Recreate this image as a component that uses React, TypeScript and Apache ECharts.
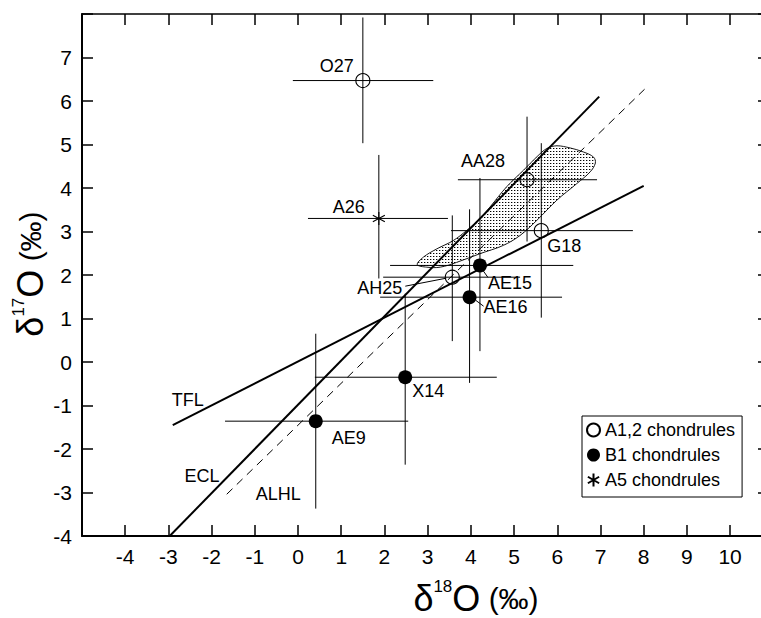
import React, { useEffect, useRef } from 'react';
import * as echarts from 'echarts';

const FONT = '"Liberation Sans", Arial, Helvetica, sans-serif';

// Axis ranges
const xMin = -5;
const xMax = 10.9;
const yMin = -4;
const yMax = 8;

// A1,2 chondrules (open circles)
const openNames = ['O27', 'AA28', 'G18', 'AH25'];
const openX = [1.5, 5.3, 5.63, 3.57];
const openY = [6.47, 4.19, 3.02, 1.95];
const openXLo = [-0.12, 3.7, 3.54, 1.97];
const openXHi = [3.13, 6.92, 7.75, 5.14];
const openYLo = [5.03, 2.77, 1.02, 0.48];
const openYHi = [7.92, 5.64, 5.03, 3.37];

// B1 chondrules (filled circles)
const filledNames = ['AE15', 'AE16', 'X14', 'AE9'];
const filledX = [4.21, 3.97, 2.48, 0.41];
const filledY = [2.22, 1.49, -0.35, -1.36];
const filledXLo = [2.13, 1.9, 0.39, -1.69];
const filledXHi = [6.37, 6.11, 4.6, 2.55];
const filledYLo = [0.25, -0.48, -2.36, -3.37];
const filledYHi = [4.23, 3.51, 1.57, 0.65];

// A5 chondrules (asterisk)
const starNames = ['A26'];
const starX = [1.87];
const starY = [3.3];
const starXLo = [0.23];
const starXHi = [3.47];
const starYLo = [1.92];
const starYHi = [4.76];

// Reference lines
const tflX = [-2.9, 8.0];
const tflY = [-1.45, 4.05];
const eclX = [-2.97, 6.97];
const eclY = [-4.0, 6.1];
const alhlX = [-1.65, 8.02];
const alhlY = [-3.04, 6.27];

const lineLabelNames = ['TFL', 'ECL', 'ALHL'];
const lineLabelX = [-2.55, -2.22, -0.46];
const lineLabelY = [-0.88, -2.61, -3.03];

// Stippled field outline
const blobX = [2.76, 2.98, 3.29, 3.67, 4.21, 4.75, 5.14, 5.53, 5.99, 6.45, 6.76, 6.88,
  6.84, 6.6, 6.3, 5.99, 5.76, 5.53, 5.22, 4.83, 4.44, 4.21, 3.91, 3.59, 3.21, 2.9];
const blobY = [2.24, 2.18, 2.18, 2.29, 2.49, 2.68, 2.91, 3.26, 3.72, 4.1, 4.37, 4.57,
  4.71, 4.83, 4.92, 4.97, 4.91, 4.72, 4.41, 4.03, 3.56, 3.3, 3.03, 2.79, 2.6, 2.41];

// label placement (pixel offsets from the point) — styling only
const labelPlace: Record<string, { dx: number; dy: number; align: string; lead?: number[] }> = {
  O27: { dx: -9, dy: -15, align: 'right' },
  AA28: { dx: -22, dy: -19, align: 'right' },
  G18: { dx: 6, dy: 15, align: 'left' },
  AH25: { dx: -50, dy: 11, align: 'right', lead: [-47, 9, -6, 1] },
  AE15: { dx: 8, dy: 18, align: 'left', lead: [3, 5, 8, 12] },
  AE16: { dx: 14, dy: 10, align: 'left', lead: [6, 3, 14, 9] },
  X14: { dx: 7, dy: 14, align: 'left' },
  AE9: { dx: 16, dy: 17, align: 'left' },
  A26: { dx: -14, dy: -11, align: 'right' },
};

const STAR_PATH = 'path://M10,0L10,20M1.34,5L18.66,15M1.34,15L18.66,5';

function errData(xs: number[], ys: number[], xl: number[], xh: number[], yl: number[], yh: number[]) {
  return xs.map((x, i) => [x, ys[i], xl[i], xh[i], yl[i], yh[i]]);
}

const titleRich = {
  d: { fontSize: 36, fontFamily: FONT, fill: '#000', lineHeight: 40 },
  s: { fontSize: 17, fontFamily: FONT, fill: '#000', lineHeight: 17, verticalAlign: 'top' },
  o: { fontSize: 36, fontFamily: FONT, fill: '#000', lineHeight: 40 },
  p: { fontSize: 30, fontFamily: FONT, fill: '#000', lineHeight: 40 },
};

export default function App() {
  const ref = useRef<HTMLDivElement>(null);
  useEffect(() => {
    if (!ref.current) return;
    const chart = echarts.init(ref.current, undefined, { renderer: 'svg' });

    const cv = document.createElement('canvas');
    cv.width = 3;
    cv.height = 3;
    const ctx = cv.getContext('2d');
    if (ctx) {
      ctx.fillStyle = '#fff';
      ctx.fillRect(0, 0, 3, 3);
      ctx.fillStyle = '#000';
      ctx.fillRect(1, 1, 1, 1);
      ctx.fillStyle = '#aaa';
      ctx.fillRect(2, 1, 1, 1);
    }
    const pattern: any = { image: cv.toDataURL(), repeat: 'repeat', imageWidth: 3, imageHeight: 3 };

    const allNames = [...openNames, ...filledNames, ...starNames];
    const allX = [...openX, ...filledX, ...starX];
    const allY = [...openY, ...filledY, ...starY];

    const errRender = (params: any, api: any) => {
      const c = api.coord([api.value(0), api.value(1)]);
      const xl = api.coord([api.value(2), api.value(1)]);
      const xh = api.coord([api.value(3), api.value(1)]);
      const yl = api.coord([api.value(0), api.value(4)]);
      const yh = api.coord([api.value(0), api.value(5)]);
      return {
        type: 'group',
        children: [
          { type: 'line', shape: { x1: xl[0], y1: c[1], x2: xh[0], y2: c[1] }, style: { stroke: '#000', lineWidth: 1 } },
          { type: 'line', shape: { x1: c[0], y1: yh[1], x2: c[0], y2: yl[1] }, style: { stroke: '#000', lineWidth: 1 } },
        ],
      };
    };

    const labelRender = (params: any, api: any) => {
      const name = allNames[params.dataIndex];
      const s = labelPlace[name];
      const c = api.coord([api.value(0), api.value(1)]);
      const children: any[] = [
        {
          type: 'text',
          x: c[0] + s.dx,
          y: c[1] + s.dy,
          style: { text: name, fill: '#000', fontSize: 18, fontFamily: FONT, align: s.align, verticalAlign: 'middle' },
        },
      ];
      if (s.lead) {
        children.push({
          type: 'line',
          shape: { x1: c[0] + s.lead[0], y1: c[1] + s.lead[1], x2: c[0] + s.lead[2], y2: c[1] + s.lead[3] },
          style: { stroke: '#000', lineWidth: 1 },
        });
      }
      return { type: 'group', children };
    };

    const lineLabelRender = (params: any, api: any) => {
      const c = api.coord([api.value(0), api.value(1)]);
      return {
        type: 'text',
        x: c[0],
        y: c[1],
        style: { text: lineLabelNames[params.dataIndex], fill: '#000', fontSize: 18, fontFamily: FONT, align: 'center', verticalAlign: 'middle' },
      };
    };

    const blobRender = (params: any, api: any) => {
      const pts = blobX.map((x, i) => api.coord([x, blobY[i]]));
      return {
        type: 'polygon',
        shape: { points: pts, smooth: 0.35 },
        style: { fill: pattern, stroke: '#000', lineWidth: 0.9 },
      };
    };

    const axisCommon = {
      type: 'value',
      splitLine: { show: false },
      axisTick: { show: true, inside: true, length: 11, lineStyle: { color: '#000', width: 1.5 } },
    };

    const option: any = {
      animation: false,
      backgroundColor: '#fff',
      grid: { left: 82, top: 14, width: 687, height: 522 },
      xAxis: [
        {
          ...axisCommon,
          position: 'bottom',
          min: xMin,
          max: xMax,
          interval: 1,
          axisLine: { show: true, onZero: false, lineStyle: { color: '#000', width: 2 } },
          axisLabel: {
            color: '#000',
            fontSize: 21,
            fontFamily: FONT,
            margin: 10,
            formatter: (v: number) => (Number.isInteger(v) && v > xMin ? String(v) : ''),
          },
        },
        {
          ...axisCommon,
          position: 'top',
          min: xMin,
          max: xMax,
          interval: 1,
          axisLine: { show: true, onZero: false, lineStyle: { color: '#000', width: 1.5 } },
          axisLabel: { show: false },
        },
      ],
      yAxis: [
        {
          ...axisCommon,
          position: 'left',
          min: yMin,
          max: yMax,
          interval: 1,
          axisLine: { show: true, onZero: false, lineStyle: { color: '#000', width: 2 } },
          axisLabel: {
            color: '#000',
            fontSize: 21,
            fontFamily: FONT,
            margin: 10,
            formatter: (v: number) => (v < yMax ? String(v) : ''),
          },
        },
        {
          ...axisCommon,
          position: 'right',
          min: yMin,
          max: yMax,
          interval: 1,
          axisLine: { show: true, onZero: false, lineStyle: { color: '#000', width: 1.5 } },
          axisLabel: { show: false },
        },
      ],
      legend: {
        show: true,
        orient: 'vertical',
        left: 582,
        top: 416,
        padding: [5, 7, 8, 4],
        itemGap: 7,
        itemWidth: 13,
        itemHeight: 13,
        selectedMode: false,
        borderColor: '#000',
        borderWidth: 1,
        backgroundColor: '#fff',
        textStyle: { color: '#000', fontSize: 18, fontFamily: FONT, lineHeight: 18 },
        data: [
          { name: 'A1,2 chondrules', icon: 'circle' },
          { name: 'B1 chondrules', icon: 'circle' },
          { name: 'A5 chondrules', icon: STAR_PATH },
        ],
      },
      graphic: [
        {
          type: 'text',
          x: 476,
          y: 598,
          silent: true,
          style: {
            text: '{d|δ}{s|18}{o|O}{p| (‰)}',
            align: 'center',
            verticalAlign: 'middle',
            fill: '#000',
            rich: titleRich,
          },
        },
        {
          type: 'text',
          x: 30,
          y: 274,
          rotation: Math.PI / 2,
          silent: true,
          style: {
            text: '{d|δ}{s|17}{o|O}{p| (‰)}',
            align: 'center',
            verticalAlign: 'middle',
            fill: '#000',
            rich: titleRich,
          },
        },
      ],
      series: [
        {
          name: 'field',
          type: 'custom',
          silent: true,
          z: 1,
          data: [[blobX[0], blobY[0]]],
          encode: { x: 0, y: 1 },
          renderItem: blobRender,
        },
        {
          name: 'TFL',
          type: 'line',
          silent: true,
          z: 2,
          symbol: 'none',
          data: tflX.map((x, i) => [x, tflY[i]]),
          lineStyle: { color: '#000', width: 2 },
        },
        {
          name: 'ECL',
          type: 'line',
          silent: true,
          z: 2,
          symbol: 'none',
          data: eclX.map((x, i) => [x, eclY[i]]),
          lineStyle: { color: '#000', width: 2 },
        },
        {
          name: 'ALHL',
          type: 'line',
          silent: true,
          z: 2,
          symbol: 'none',
          data: alhlX.map((x, i) => [x, alhlY[i]]),
          lineStyle: { color: '#000', width: 1, type: [8, 6] },
        },
        {
          name: 'errors',
          type: 'custom',
          silent: true,
          z: 3,
          data: [
            ...errData(openX, openY, openXLo, openXHi, openYLo, openYHi),
            ...errData(filledX, filledY, filledXLo, filledXHi, filledYLo, filledYHi),
            ...errData(starX, starY, starXLo, starXHi, starYLo, starYHi),
          ],
          encode: { x: [0, 2, 3], y: [1, 4, 5] },
          renderItem: errRender,
        },
        {
          name: 'A1,2 chondrules',
          type: 'scatter',
          silent: true,
          z: 4,
          symbol: 'circle',
          symbolSize: 14,
          data: openX.map((x, i) => [x, openY[i]]),
          itemStyle: { color: 'rgba(255,255,255,0)', borderColor: '#000', borderWidth: 1.1, opacity: 1 },
        },
        {
          name: 'B1 chondrules',
          type: 'scatter',
          silent: true,
          z: 4,
          symbol: 'circle',
          symbolSize: 14,
          data: filledX.map((x, i) => [x, filledY[i]]),
          itemStyle: { color: '#000', opacity: 1 },
        },
        {
          name: 'A5 chondrules',
          type: 'scatter',
          silent: true,
          z: 4,
          symbol: STAR_PATH,
          symbolSize: [12, 13],
          data: starX.map((x, i) => [x, starY[i]]),
          itemStyle: { color: 'rgba(255,255,255,0)', borderColor: '#000', borderWidth: 1.2, opacity: 1 },
        },
        {
          name: 'labels',
          type: 'custom',
          silent: true,
          z: 5,
          data: allX.map((x, i) => [x, allY[i]]),
          encode: { x: 0, y: 1 },
          renderItem: labelRender,
        },
        {
          name: 'lineLabels',
          type: 'custom',
          silent: true,
          z: 5,
          data: lineLabelX.map((x, i) => [x, lineLabelY[i]]),
          encode: { x: 0, y: 1 },
          renderItem: lineLabelRender,
        },
      ],
    };

    chart.setOption(option);
    return () => {
      chart.dispose();
    };
  }, []);

  return (
    <div style={{ position: 'fixed', left: 0, top: 0, width: 761, height: 618, overflow: 'hidden', background: '#fff' }}>
      <div ref={ref} style={{ width: 790, height: 618 }} />
    </div>
  );
}
